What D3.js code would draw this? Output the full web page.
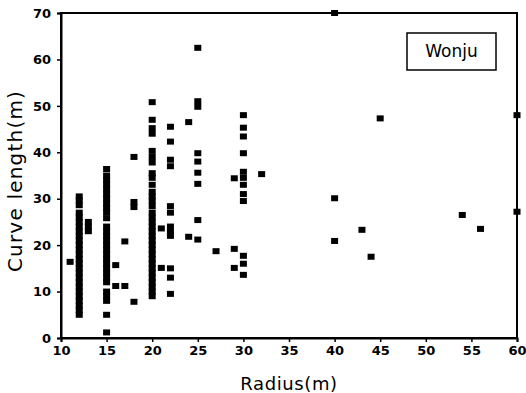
<!DOCTYPE html>
<html><head><meta charset="utf-8">
<script src="https://cdn.jsdelivr.net/npm/d3@7"></script>
<style>body{margin:0;background:#fff}</style>
</head><body><svg id="c" width="526" height="393"></svg>
<script>
// radius groups and the curve lengths observed at each radius
const radii = [11,12,13,15,16,17,18,20,21,22,24,25,27,29,30,32,40,43,44,45,54,56,60];
const lengths = [
  [16.4],
  [5,6,7,8,9,10,11,12,13,14,15,16,17,18,19,20,21,22,23,24,25,26,27,28.6,29.6,30.5],
  [23,24,25],
  [1.2,5,8,9,10,12,13,14,15,16,17,18,19,20,21,22,23,24,25.8,27,28,29,30,31,32,33,34,35,36.4],
  [15.7,11.2],
  [20.8,11.2],
  [7.8,28.2,29.3,39],
  [9,10,11,12,13,14,15,16,17,18,19,20,21,22,23,24,25,26,27,28.4,29.5,30.5,31.5,33,34.5,35.5,37.8,39,40.3,44,45.2,47,50.8],
  [15.1,23.6],
  [9.5,13,15,22,23,24,27,28.4,37,38.4,42.3,45.5],
  [21.8,46.5],
  [21.2,25.4,33.2,35.6,38,39.8,49.8,51,62.5],
  [18.7],
  [15.1,19.2,34.4],
  [13.6,16,17.7,29.5,31,33,34.5,35.8,39.8,43.4,45.3,48],
  [35.3],
  [20.9,30.1,70],
  [23.3],
  [17.5],
  [47.3],
  [26.5],
  [23.5],
  [27.2,48]
];
const xTicks = [10,15,20,25,30,35,40,45,50,55,60];
const yTicks = [0,10,20,30,40,50,60,70];
const xTitle = "Radius(m)";
const yTitle = "Curve length(m)";
const legendLabel = "Wonju";

const points = [];
radii.forEach((r,i)=>lengths[i].forEach(v=>points.push({r:r,v:v})));

const svg = d3.select("#c");
const L=61, R=517, T=13, B=338;
const x = d3.scaleLinear().domain([10,60]).range([L,R]);
const y = d3.scaleLinear().domain([0,70]).range([B,T]);
const font = "'DejaVu Sans', sans-serif";

// frame
svg.append("rect").attr("x",L).attr("y",T).attr("width",R-L).attr("height",B-T)
  .attr("fill","none").attr("stroke","#000").attr("stroke-width",2);

const xa = svg.append("g").attr("transform",`translate(0,${B})`)
  .call(d3.axisBottom(x).tickValues(xTicks).tickSize(4).tickPadding(4).tickFormat(d3.format("d")));
const ya = svg.append("g").attr("transform",`translate(${L},0)`)
  .call(d3.axisLeft(y).tickValues(yTicks).tickSize(4).tickPadding(6).tickFormat(d3.format("d")));
[xa,ya].forEach(a=>{
  a.select(".domain").attr("stroke","#000").attr("stroke-width",2);
  a.selectAll(".tick line").attr("stroke","#000").attr("stroke-width",1.5);
  a.selectAll("text").attr("font-family",font).attr("font-size",13).attr("font-weight","bold").attr("fill","#000");
});

// markers
svg.append("g").selectAll("rect").data(points).join("rect")
  .attr("x",d=>x(d.r)-3.5).attr("y",d=>y(d.v)-3)
  .attr("width",7).attr("height",6).attr("fill","#000");

// titles
svg.append("text").attr("x",(L+R)/2).attr("y",390).attr("text-anchor","middle")
  .attr("font-family",font).attr("font-size",18).attr("letter-spacing",0.6).text(xTitle);
svg.append("text").attr("transform","translate(22,181) rotate(-90)").attr("text-anchor","middle")
  .attr("font-family",font).attr("font-size",20).attr("letter-spacing",1.2).text(yTitle);

// legend box
svg.append("rect").attr("x",407).attr("y",33).attr("width",89).attr("height",37)
  .attr("fill","#fff").attr("stroke","#000").attr("stroke-width",1.5);
svg.append("text").attr("x",451.5).attr("y",57).attr("text-anchor","middle")
  .attr("font-family",font).attr("font-size",17).text(legendLabel);
</script></body></html>
